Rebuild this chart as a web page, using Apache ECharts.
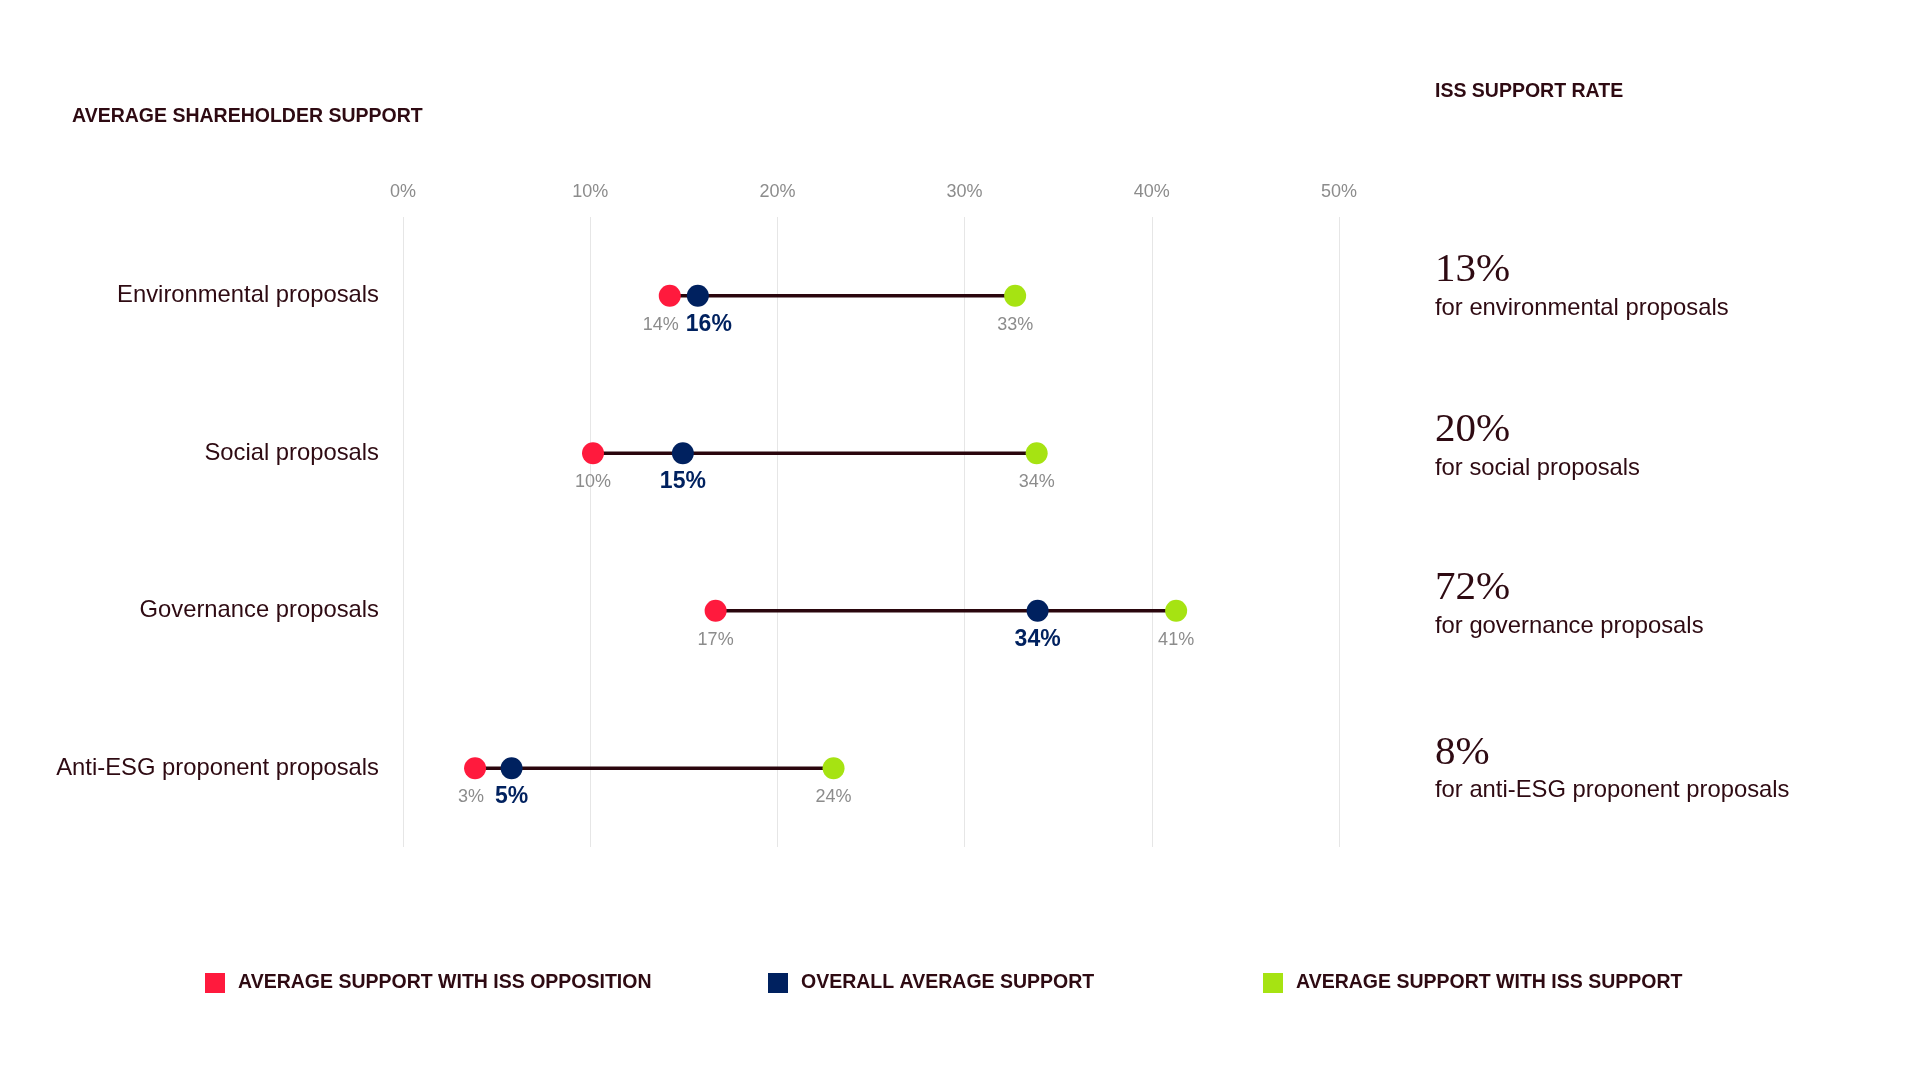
<!DOCTYPE html>
<html>
<head>
<meta charset="utf-8">
<title>Average shareholder support</title>
<script src="https://cdn.jsdelivr.net/npm/echarts@6/dist/echarts.min.js"></script>
<style>
  html, body { margin: 0; padding: 0; background: #fff; }
  #chart { width: 1920px; height: 1080px; }
</style>
</head>
<body>
<div id="chart"></div>
<script>
// categories, top to bottom
var categories = ['Environmental proposals', 'Social proposals', 'Governance proposals', 'Anti-ESG proponent proposals'];

// average support, %
var oppositionSupport = [14.25, 10.15, 16.7, 3.85];  // with ISS opposition
var overallSupport = [15.75, 14.95, 33.9, 5.8];      // overall average
var issBackedSupport = [32.7, 33.85, 41.3, 23.0];    // with ISS support

// printed labels under the dots
var oppositionLabels = ['14%', '10%', '17%', '3%'];
var overallLabels = ['16%', '15%', '34%', '5%'];
var issBackedLabels = ['33%', '34%', '41%', '24%'];

// x axis ticks
var xMin = 0, xMax = 50, xStep = 10;

// right hand panel
var issRates = ['13%', '20%', '72%', '8%'];
var issRateNotes = ['for environmental proposals', 'for social proposals', 'for governance proposals', 'for anti-ESG proponent proposals'];

var seriesNames = ['AVERAGE SUPPORT WITH ISS OPPOSITION', 'OVERALL AVERAGE SUPPORT', 'AVERAGE SUPPORT WITH ISS SUPPORT'];

var RED = '#ff1a3d', NAVY = '#00215f', GREEN = '#a6e312';
var INK = '#2e0a12', GREY = '#8c8c8c';
var SANS = '"Liberation Sans", Arial, sans-serif';
var SERIF = '"Liberation Serif", "Times New Roman", serif';

// small nudges where the red and navy labels would collide
var redNudge = { 0: -9, 3: -4 };
var navyNudge = { 0: 11 };

function dots(values, nudge) {
  return values.map(function (v, i) {
    var item = { value: [v, i] };
    if (nudge && nudge[i]) item.label = { offset: [nudge[i], 0] };
    return item;
  });
}

var chart = echarts.init(document.getElementById('chart'));

// right panel rows (centre y of the big number and of the note)
var panelBigY = [270, 430, 588, 753];
var panelNoteY = [308, 468, 626, 790];
var panel = [];
issRates.forEach(function (r, i) {
  panel.push({
    type: 'text', x: 1435, y: panelBigY[i],
    style: { text: r, fill: INK, font: '41px ' + SERIF, verticalAlign: 'middle' }
  });
  panel.push({
    type: 'text', x: 1435, y: panelNoteY[i],
    style: { text: issRateNotes[i], fill: INK, font: '23.8px ' + SANS, verticalAlign: 'middle' }
  });
});

var legendBase = {
  top: 973, padding: 0, icon: 'rect', itemWidth: 20, itemHeight: 20,
  selectedMode: false,
  textStyle: { color: INK, fontSize: 19.5, fontWeight: 'bold', fontFamily: SANS, padding: [0, 0, 0, 8] }
};

chart.setOption({
  animation: false,
  backgroundColor: '#fff',
  title: [
    { text: 'AVERAGE SHAREHOLDER SUPPORT', left: 72, top: 107, padding: 0,
      textStyle: { color: INK, fontSize: 19.5, fontWeight: 'bold', fontFamily: SANS } },
    { text: 'ISS SUPPORT RATE', left: 1435, top: 82, padding: 0,
      textStyle: { color: INK, fontSize: 19.5, fontWeight: 'bold', fontFamily: SANS } }
  ],
  legend: [
    Object.assign({ left: 205, data: [seriesNames[0]] }, legendBase),
    Object.assign({ left: 768, data: [seriesNames[1]] }, legendBase),
    Object.assign({ left: 1263, data: [seriesNames[2]] }, legendBase)
  ],
  grid: { left: 403, right: 581, top: 217, bottom: 233 },
  xAxis: {
    type: 'value', position: 'top',
    min: xMin, max: xMax, interval: xStep,
    axisLine: { show: false },
    axisTick: { show: false },
    axisLabel: { formatter: '{value}%', color: GREY, fontSize: 18, fontFamily: SANS, margin: 16 },
    splitLine: { show: true, lineStyle: { color: '#e6e6e6', width: 1 } }
  },
  yAxis: {
    type: 'category', data: categories, inverse: true,
    axisLine: { show: false },
    axisTick: { show: false },
    splitLine: { show: false },
    axisLabel: { color: INK, fontSize: 23.8, fontFamily: SANS, margin: 24 }
  },
  series: [
    {
      // connecting bar from lowest to highest dot
      type: 'custom', name: 'range', z: 1, silent: true,
      encode: { x: [0, 1], y: 2 },
      data: categories.map(function (c, i) {
        var all = [oppositionSupport[i], overallSupport[i], issBackedSupport[i]];
        return [Math.min.apply(null, all), Math.max.apply(null, all), i];
      }),
      renderItem: function (params, api) {
        var a = api.coord([api.value(0), api.value(2)]);
        var b = api.coord([api.value(1), api.value(2)]);
        return {
          type: 'line',
          shape: { x1: a[0], y1: a[1], x2: b[0], y2: b[1] },
          style: { stroke: '#2a060d', lineWidth: 3.5 }
        };
      }
    },
    {
      name: seriesNames[0], type: 'scatter', z: 3, symbolSize: 22,
      itemStyle: { color: RED, opacity: 1 },
      data: dots(oppositionSupport, redNudge),
      label: { show: true, position: 'bottom', distance: 9, color: GREY, fontSize: 18, fontFamily: SANS,
        formatter: function (p) { return oppositionLabels[p.dataIndex]; } }
    },
    {
      name: seriesNames[1], type: 'scatter', z: 4, symbolSize: 22,
      itemStyle: { color: NAVY, opacity: 1 },
      data: dots(overallSupport, navyNudge),
      label: { show: true, position: 'bottom', distance: 6, color: NAVY, fontSize: 23, fontWeight: 'bold', fontFamily: SANS,
        formatter: function (p) { return overallLabels[p.dataIndex]; } }
    },
    {
      name: seriesNames[2], type: 'scatter', z: 3, symbolSize: 22,
      itemStyle: { color: GREEN, opacity: 1 },
      data: dots(issBackedSupport),
      label: { show: true, position: 'bottom', distance: 9, color: GREY, fontSize: 18, fontFamily: SANS,
        formatter: function (p) { return issBackedLabels[p.dataIndex]; } }
    }
  ],
  graphic: panel
});
</script>
</body>
</html>
